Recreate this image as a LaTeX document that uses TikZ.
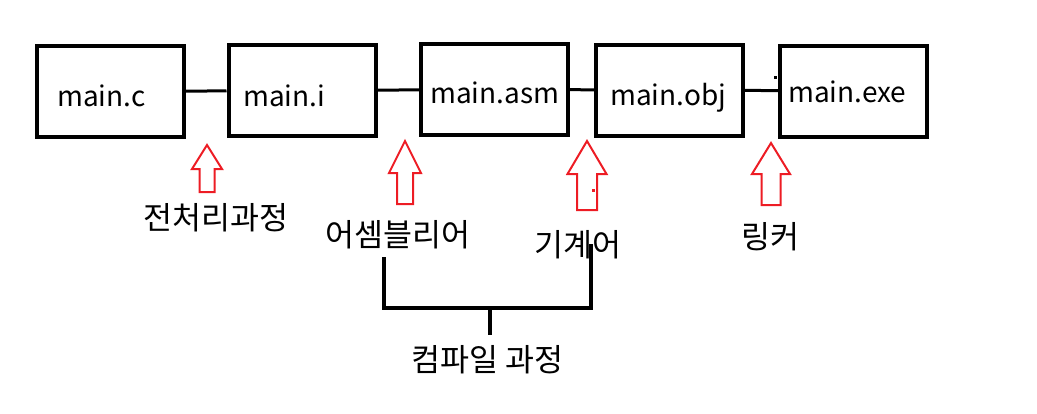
\documentclass[tikz,border=0pt]{standalone}
\usepackage{fontspec}
\setmainfont{Noto Sans CJK KR}
\definecolor{paintred}{RGB}{237,28,36}

\begin{document}
\begin{tikzpicture}[x=1pt,y=-1pt, line join=miter,
    filebox/.style={draw, line width=4pt, minimum width=147pt, minimum height=91pt, inner sep=0pt},
    fname/.style={anchor=base west, inner sep=0pt, font=\fontsize{28}{32}\selectfont},
    step label/.style={inner sep=0pt, font=\fontsize{31.5}{36}\selectfont},
    link/.style={line width=3pt},
    uparrow/.style={draw=paintred, line width=2pt},
    brace line/.style={line width=3.5pt, line cap=rect}]
    \useasboundingbox (0,0) rectangle (1037,413);

    % Files
    \node[filebox] (c)   at (110.5,91.5) {};
    \node[filebox] (i)   at (302,90.5)   {};
    \node[filebox] (asm) at (494.5,89.5) {};
    \node[filebox] (obj) at (669.5,90)   {};
    \node[filebox] (exe) at (853.5,91)   {};

    \node[fname] (ctext)   at (57,106)  {main.c};
    \node[fname] (itext)   at (243,106) {main.i};
    \node[fname] (asmtext) at (430,103) {main.asm};
    \node[fname] (objtext) at (610,105) {main.obj};
    \node[fname] (exetext) at (788,102) {main.exe};

    % Links
    \draw[link] (c) -- (i);
    \draw[link] (i) -- (asm);
    \draw[link] (asm) -- (obj);
    \draw[link] (obj) -- (exe);
    \fill (773.5,75.5) rectangle +(3,3);

    % Arrows
    \foreach \tx/\ty/\hw/\hb/\sw/\by in {207/145/15/169/7.5/192, 405/141/16/173/8/204,
                                         587/141/19.5/174/10/210, 771/143/19/174/9.5/205}{
        \draw[uparrow] (\tx,\ty) -- (\tx+\hw,\hb) -- (\tx+\sw,\hb) -- (\tx+\sw,\by)
            -- (\tx-\sw,\by) -- (\tx-\sw,\hb) -- (\tx-\hw,\hb) -- cycle;
    }
    \fill[paintred] (591.5,188.5) rectangle +(3,3);

    % Labels
    \node[step label] (pre)  at (216,217.5) {전처리과정};
    \node[step label] (asml) at (398,234.5) {어셈블리어};
    \node[step label] (mach) at (578,245)   {기계어};
    \node[step label] (lnk)  at (770,236.5) {링커};

    % Compile bracket
    \draw[brace line] (384,259) -- (384,308) -- (591,308) -- (591,246);
    \draw[brace line] (490,308) -- (490,333);
    \node[step label] (comp) at (487.5,359.5) {컴파일 과정};
\end{tikzpicture}
\end{document}
